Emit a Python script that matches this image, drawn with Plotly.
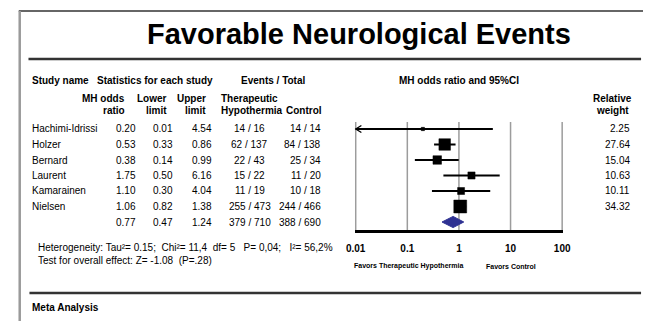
import math
import plotly.graph_objects as go

# ---------------- data ----------------
studies = ["Hachimi-Idrissi", "Holzer", "Bernard", "Laurent", "Kamarainen", "Nielsen"]
odds_ratio = [0.20, 0.53, 0.38, 1.75, 1.10, 1.06]
lower_limit = [0.01, 0.33, 0.14, 0.50, 0.30, 0.82]
upper_limit = [4.54, 0.86, 0.99, 6.16, 4.04, 1.38]
events_th = ["14 / 16", "62 / 137", "22 / 43", "15 / 22", "11 / 19", "255 / 473"]
events_ctrl = ["14 / 14", "84 / 138", "25 / 34", "11 / 20", "10 / 18", "244 / 466"]
rel_weight = [2.25, 27.64, 15.04, 10.63, 10.11, 34.32]

summary_or = 0.77
summary_lo = 0.47
summary_hi = 1.24
summary_th = "379 / 710"
summary_ctrl = "388 / 690"

axis_ticks = [0.01, 0.1, 1, 10, 100]
axis_ticktext = ["0.01", "0.1", "1", "10", "100"]

title_text = "Favorable Neurological Events"
heterogeneity = "Heterogeneity: Tau\u00b2= 0.15;\u00a0 Chi\u00b2= 11,4\u00a0 df= 5\u00a0\u00a0 P= 0,04;\u00a0\u00a0 I\u00b2= 56,2%"
overall = "Test for overall effect: Z= -1.08\u00a0 (P=.28)"

# ---------------- layout helpers ----------------
W, H = 651, 321
FONT = "Liberation Sans, Arial, sans-serif"


def X(px):
    return px / W


def Y(py):
    return 1 - py / H


ROW0, ROWSTEP = 129.0, 15.5
PLOT_TOP, PLOT_BOT = 122.0, 230.0
XL, XR = 356.0, 568.0          # pixel positions of 0.01 and 100
PAD_DEC = 0.02                 # small padding (decades) so edge gridlines are not clipped
PX_PER_DEC = (XR - XL) / 4.0

fig = go.Figure()

n = len(studies)
ypos = [-i for i in range(n)]
ysum = -n

v_top = (ROW0 - PLOT_TOP) / ROWSTEP
v_bot = (ROW0 - PLOT_BOT) / ROWSTEP

# vertical reference lines at each tick value (drawn as a trace so edge lines show)
gx, gy = [], []
for t in axis_ticks:
    gx += [t, t, None]
    gy += [v_bot, v_top, None]
fig.add_trace(go.Scatter(x=gx, y=gy, mode="lines", line=dict(color="#9c9c9c", width=1.5),
                         hoverinfo="skip"))

# CI lines
lx, ly = [], []
for lo, hi, yv in zip(lower_limit, upper_limit, ypos):
    lx += [lo, hi, None]
    ly += [yv, yv, None]
fig.add_trace(go.Scatter(x=lx, y=ly, mode="lines", line=dict(color="black", width=2),
                         hoverinfo="skip"))

# arrow head for a CI truncated at the axis minimum
ax_x, ax_y = [], []
for lo, yv in zip(lower_limit, ypos):
    if lo <= axis_ticks[0]:
        ax_x += [lo * 10 ** 0.11, lo, lo * 10 ** 0.11, None]
        ax_y += [yv + 0.23, yv, yv - 0.23, None]
fig.add_trace(go.Scatter(x=ax_x, y=ax_y, mode="lines", line=dict(color="black", width=1.3),
                         hoverinfo="skip"))

# study squares sized by weight
fig.add_trace(go.Scatter(x=odds_ratio, y=ypos, mode="markers",
                         marker=dict(symbol="square", color="black", opacity=1,
                                     size=[2.2 * math.sqrt(w) for w in rel_weight],
                                     line=dict(width=0.5, color="black"))))

# summary diamond
dh = 0.36
fig.add_trace(go.Scatter(x=[summary_lo, summary_or, summary_hi, summary_or, summary_lo],
                         y=[ysum, ysum + dh, ysum, ysum - dh, ysum],
                         mode="lines", fill="toself", fillcolor="#2e3192",
                         line=dict(color="#2e3192", width=1)))

fig.update_layout(
    width=W, height=H, autosize=False, margin=dict(l=0, r=0, t=0, b=0, pad=0),
    paper_bgcolor="white", plot_bgcolor="white", showlegend=False,
    font=dict(family=FONT, color="black", size=10),
    xaxis=dict(type="log", range=[-2 - PAD_DEC, 2 + PAD_DEC],
               domain=[X(XL - PAD_DEC * PX_PER_DEC), X(XR + PAD_DEC * PX_PER_DEC)],
               tickvals=axis_ticks, ticktext=axis_ticktext,
               tickfont=dict(family=FONT, size=10, weight="bold", color="black"),
               showgrid=False,
               showline=True, linecolor="black", linewidth=2.5,
               ticks="", ticklabelstandoff=7, zeroline=False, fixedrange=True),
    yaxis=dict(range=[v_bot, v_top], domain=[Y(PLOT_BOT), Y(PLOT_TOP)],
               visible=False, showgrid=False, zeroline=False, fixedrange=True),
)

shapes = [
    # frame
    dict(type="line", xref="paper", yref="paper", x0=X(10), x1=X(651), y0=Y(11), y1=Y(11),
         line=dict(color="#333333", width=1.5)),
    dict(type="line", xref="paper", yref="paper", x0=X(11), x1=X(11), y0=Y(11), y1=Y(321),
         line=dict(color="#9a9a9a", width=2.5)),
    # title underline
    dict(type="line", xref="paper", yref="paper", x0=X(20), x1=X(649), y0=Y(59), y1=Y(59),
         line=dict(color="#333333", width=2.5)),
    # bottom line
    dict(type="line", xref="paper", yref="paper", x0=X(21), x1=X(649), y0=Y(293), y1=Y(293),
         line=dict(color="#333333", width=2.5)),
]
fig.update_layout(shapes=shapes)

anns = []


def txt(text, px, py, anchor="left", size=10, bold=False):
    anns.append(dict(text=text, x=X(px), y=Y(py), xref="paper", yref="paper",
                     xanchor=anchor, yanchor="middle", showarrow=False,
                     font=dict(family=FONT, size=size, color="black",
                               weight="bold" if bold else "normal")))


txt(title_text, 359, 34, "center", 29, True)

# headers
txt("Study name", 22, 80, "left", 10, True)
txt("Statistics for each study", 150, 80, "center", 10, True)
txt("Events / Total", 271, 80, "center", 10, True)
txt("MH odds ratio and 95%CI", 462, 80, "center", 10, True)
txt("MH odds", 121, 98, "right", 10, True)
txt("ratio", 121, 110, "right", 10, True)
txt("Lower", 164, 98, "right", 10, True)
txt("limit", 164, 110, "right", 10, True)
txt("Upper", 204, 98, "right", 10, True)
txt("limit", 204, 110, "right", 10, True)
txt("Therapeutic", 216, 98, "left", 10, True)
txt("Hypothermia", 216, 110, "left", 10, True)
txt("Control", 323, 110, "right", 10, True)
txt("Relative", 620, 98, "center", 10, True)
txt("weight", 620, 110, "center", 10, True)

# rows
for i, name in enumerate(studies):
    py = ROW0 + ROWSTEP * i
    txt(name, 22, py, "left")
    txt(f"{odds_ratio[i]:.2f}", 132, py, "right")
    txt(f"{lower_limit[i]:.2f}", 170, py, "right")
    txt(f"{upper_limit[i]:.2f}", 210, py, "right")
    txt(events_th[i], 247, py, "center")
    txt(events_ctrl[i], 322, py, "right")
    txt(f"{rel_weight[i]:.2f}", 640, py, "right")

py = ROW0 + ROWSTEP * n
txt(f"{summary_or:.2f}", 132, py, "right")
txt(f"{summary_lo:.2f}", 170, py, "right")
txt(f"{summary_hi:.2f}", 210, py, "right")
txt(summary_th, 247, py, "center")
txt(summary_ctrl, 322, py, "right")

txt(heterogeneity, 28, 247, "left")
txt(overall, 28, 260, "left")

txt("Favors Therapeutic Hypothermia", 410, 266, "center", 7, True)
txt("Favors Control", 515, 266, "center", 7, True)

txt("Meta Analysis", 22, 307, "left", 10, True)

fig.update_layout(annotations=anns)

fig.write_html("out.html")
